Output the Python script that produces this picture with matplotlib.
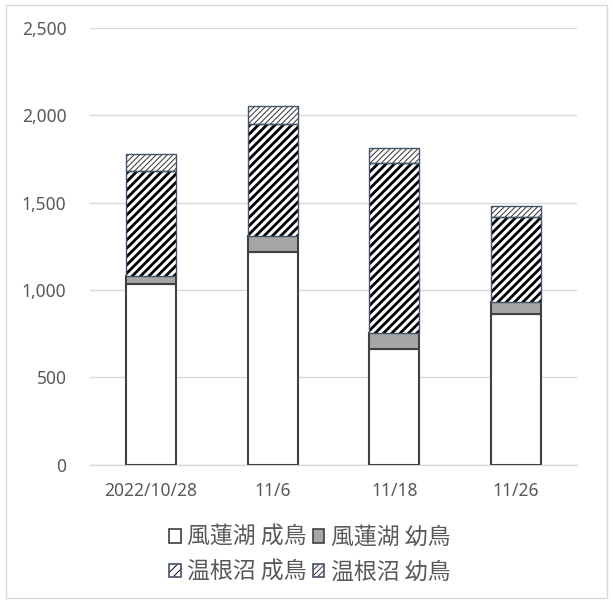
import matplotlib
matplotlib.use("Agg")
import matplotlib.pyplot as plt
from matplotlib.patches import Rectangle, Patch
import numpy as np

plt.rcParams['font.family'] = ['Noto Sans CJK JP', 'DejaVu Sans']

categories = ["2022/10/28", "11/6", "11/18", "11/26"]
furen_adult = [1035, 1220, 665, 865]
furen_juv = [46, 90, 90, 68]
onne_adult = [600, 641, 973, 487]
onne_juv = [97, 103, 85, 63]
labels = ["風蓮湖 成鳥", "風蓮湖 幼鳥", "温根沼 成鳥", "温根沼 幼鳥"]
yticks = [0, 500, 1000, 1500, 2000, 2500]

txt = "#595959"
blue_edge = "#44546A"

fig = plt.figure(figsize=(6.13, 6.03), dpi=100)
ax = fig.add_axes([0.147, 0.229, 0.794, 0.725])

x = np.arange(len(categories))
w = 0.41
b1 = np.array(furen_adult)
b2 = b1 + np.array(furen_juv)
b3 = b2 + np.array(onne_adult)

ax.bar(x, furen_adult, w, color="white", edgecolor="#404040", linewidth=1.5, zorder=3)
ax.bar(x, furen_juv, w, bottom=b1, color="#A6A6A6", edgecolor="#404040", linewidth=1.5, zorder=3)

plt.rcParams['hatch.linewidth'] = 2.0
ax.bar(x, onne_adult, w, bottom=b2, color="white", edgecolor="black", hatch="////", linewidth=0, zorder=3)
h_adult = Patch(facecolor="white", edgecolor="black", hatch="////", linewidth=0)
ax.bar(x, onne_adult, w, bottom=b2, fill=False, edgecolor=blue_edge, linewidth=1.0, zorder=4)
plt.rcParams['hatch.linewidth'] = 0.7
ax.bar(x, onne_juv, w, bottom=b3, color="white", edgecolor="#303030", hatch="//////", linewidth=0, zorder=3)
h_juv = Patch(facecolor="white", edgecolor="#303030", hatch="//////", linewidth=0)
ax.bar(x, onne_juv, w, bottom=b3, fill=False, edgecolor=blue_edge, linewidth=1.0, zorder=4)

ax.set_ylim(0, 2500)
ax.set_xlim(-0.5, len(categories) - 0.5)
ax.set_yticks(yticks)
ax.set_yticklabels([f"{v:,}" for v in yticks], family=["Noto Sans", "DejaVu Sans"])
ax.set_xticks(x)
ax.set_xticklabels(categories, family=["Noto Sans", "DejaVu Sans"])
ax.tick_params(axis='both', length=0, colors=txt, labelsize=12.5)
ax.tick_params(axis='y', pad=17)
ax.tick_params(axis='x', pad=12)
ax.grid(axis='y', color="#D9D9D9", linewidth=1.0, zorder=0)
for s in ["top", "right", "left"]:
    ax.spines[s].set_visible(False)
ax.spines["bottom"].set_color("#D9D9D9")
ax.spines["bottom"].set_linewidth(1.0)

handles = [
    Patch(facecolor="white", edgecolor="#404040", linewidth=1.2),
    Patch(facecolor="#A6A6A6", edgecolor="#404040", linewidth=1.2),
    h_adult,
    h_juv,
]
order = [0, 2, 1, 3]
leg = fig.legend([handles[i] for i in order], [labels[i] for i in order],
                 ncol=2, loc="center", bbox_to_anchor=(0.505, 0.080),
                 frameon=False, fontsize=16.5, labelcolor=txt,
                 handlelength=0.52, handleheight=0.52, handletextpad=0.27,
                 columnspacing=0.26, labelspacing=0.5, borderpad=0.2)
# blue outline for the hatched legend handles
for hp, i in zip(leg.legend_handles, order):
    if i >= 2:
        hp.set_linewidth(0)

fig.canvas.draw()
for hp, i in zip(leg.legend_handles, order):
    if i >= 2:
        bb = hp.get_window_extent()
        fig.patches.append(Rectangle((bb.x0, bb.y0), bb.width, bb.height, transform=None,
                                     fill=False, edgecolor=blue_edge, linewidth=1.2, zorder=10))

fig.patches.append(Rectangle((6/613, 5/603), 601/613, 593/603, transform=fig.transFigure,
                             fill=False, edgecolor="#D9D9D9", linewidth=1.0))

fig.savefig("out.png", dpi=100)
